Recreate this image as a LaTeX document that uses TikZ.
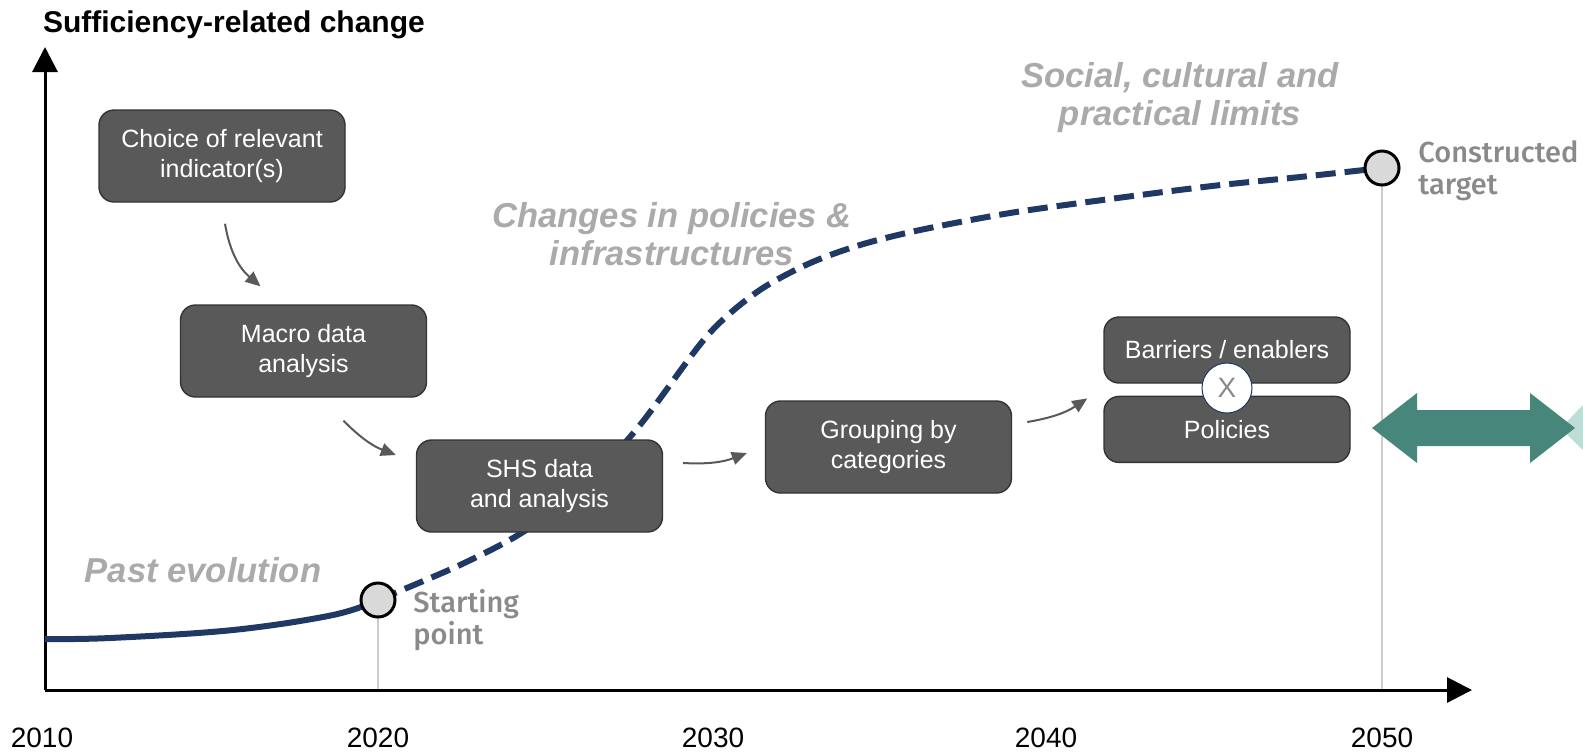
\documentclass[tikz,border=0pt]{standalone}
\usepackage{fontspec}
\setmainfont{Liberation Sans}
\newfontfamily\markfont{Fira Sans Medium}
\usetikzlibrary{arrows.meta, positioning}

\definecolor{navy}{RGB}{31,56,100}
\definecolor{boxgrey}{RGB}{89,89,89}
\definecolor{boxedge}{RGB}{51,51,51}
\definecolor{notegrey}{RGB}{170,170,170}
\definecolor{markgrey}{RGB}{138,138,138}
\definecolor{guidegrey}{RGB}{205,205,205}
\definecolor{dotgrey}{RGB}{217,217,217}
\definecolor{tealarrow}{RGB}{70,134,123}
\definecolor{tealpale}{RGB}{188,222,214}

\tikzset{> = { Triangle[length = 7.5pt, width = 6.5pt] }}

\begin{document}
\begin{tikzpicture}[x = 0.5pt, y = -0.5pt,
    task/.style = { draw = boxedge, line width = 0.7pt, fill = boxgrey, rounded corners = 7.5pt, text = white, align = center, minimum width = 123pt, minimum height = 46pt, font = \fontsize{12.5}{15}\selectfont },
    flow/.style = { ->, draw = boxgrey, line width = 1pt },
    note/.style = { text = notegrey, align = center, font = \fontsize{17.3}{19}\selectfont\bfseries\itshape },
    milestone/.style = { draw, circle, fill = dotgrey, line width = 1.5pt, minimum size = 17pt, inner sep = 0pt },
    remark/.style = { text = markgrey, align = left, anchor = north west, inner sep = 0pt, font = \markfont\fontsize{14.5}{16}\selectfont },
    year/.style = { font = \fontsize{14}{16}\selectfont },
    axis/.style = { -{Triangle[length = 12.5pt, width = 12.5pt]}, line width = 1.5pt }]
	\useasboundingbox (0, 0) rectangle (1583, 751);

	\coordinate (origin) at (45, 690);
	\coordinate (ytop) at (45, 47);
	\coordinate (xend) at (1472, 690);
	\coordinate (start) at (378, 600);
	\coordinate (target) at (1382, 168);

	% grey guides from the two milestones
	\draw [guidegrey, line width = 1pt] (start) -- (start |- origin);
	\draw [guidegrey, line width = 1pt] (target) -- (target |- origin);

	% axes
	\draw [axis] (origin) -- (ytop);
	\draw [axis] (origin) -- (xend);
	\node [anchor = base west, font = \fontsize{15}{18}\selectfont\bfseries] (ylabel) at (36, 32) {Sufficiency-related change};

	\node [year] (y2010) at (42, 738) {2010};
	\node [year] (y2020) at (378, 738) {2020};
	\node [year] (y2030) at (713, 738) {2030};
	\node [year] (y2040) at (1046, 738) {2040};
	\node [year] (y2050) at (1382, 738) {2050};

	% trajectory
	\draw [navy, line width = 3pt] plot [smooth, tension = 0.6] coordinates {(45, 639) (110, 638) (233, 630) (333, 615) (start)};
	\draw [navy, line width = 3pt, dash pattern = on 10pt off 4.5pt] plot [smooth, tension = 0.5] coordinates {(start) (460, 565) (523, 532) (585, 485) (640, 425) (707, 336) (757, 292) (808, 264) (860, 245) (920, 230) (1010, 213) (1110, 199) (1212, 186) (1300, 177) (target)};

	\node [milestone] (p2020) at (start) {};
	\node [milestone] (p2050) at (target) {};
	\node [remark] (startlabel) at (413, 589) {Starting\\point};
	\node [remark] (targetlabel) at (1418, 140) {Constructed\\target};

	\node [note] (past) at (203, 570) {Past evolution};
	\node [note] (changes) at (672, 234) {Changes in policies \&\\infrastructures};
	\node [note] (limits) at (1180, 98) {Social, cultural and\\practical limits};

	% method steps
	\node [task] (choice) at (222, 156) {Choice of relevant\\indicator(s)};
	\node [task] (macro) at (303.5, 351) {Macro data\\analysis};
	\node [task] (shs) at (539.5, 486) {SHS data\\and analysis};
	\node [task] (grouping) at (888.5, 447) {Grouping by\\categories};
	\node [task, minimum height = 33pt] (barriers) at (1227, 350) {Barriers / enablers};
	\node [task, minimum height = 33pt, below = 6pt of barriers] (policies) {Policies};
	\node [circle, draw = navy, line width = 0.5pt, fill = white, minimum size = 25pt, inner sep = 0pt, text = markgrey, font = \fontsize{14}{14}\selectfont] (cross) at (1227, 388) {X};

	\draw [flow] ([shift = {(3, 21)}]choice.south) to [bend right = 20] ([shift = {(-43, -18)}]macro.north);
	\draw [flow] ([shift = {(40, 23)}]macro.south) to [bend right = 12] ([shift = {(-20, -31)}]shs.west);
	\draw [flow] ([shift = {(20, -23)}]shs.east) to [bend right = 12] ([shift = {(-18, 6)}]grouping.west);
	\draw [flow] ([shift = {(15, -25)}]grouping.east) to [bend right = 12] ([shift = {(-16, -31)}]policies.west);

	% exchange arrow on the right
	\fill [tealpale] (1583, 405) .. controls (1574, 414) and (1567, 422) .. (1561, 428) .. controls (1567, 434) and (1574, 442) .. (1583, 450) -- cycle;
	\fill [tealarrow] (1372, 428) -- (1417, 393) -- (1417, 410) -- (1530, 410) -- (1530, 393) -- (1575, 428) -- (1530, 463) -- (1530, 446) -- (1417, 446) -- (1417, 463) -- cycle;
\end{tikzpicture}
\end{document}
